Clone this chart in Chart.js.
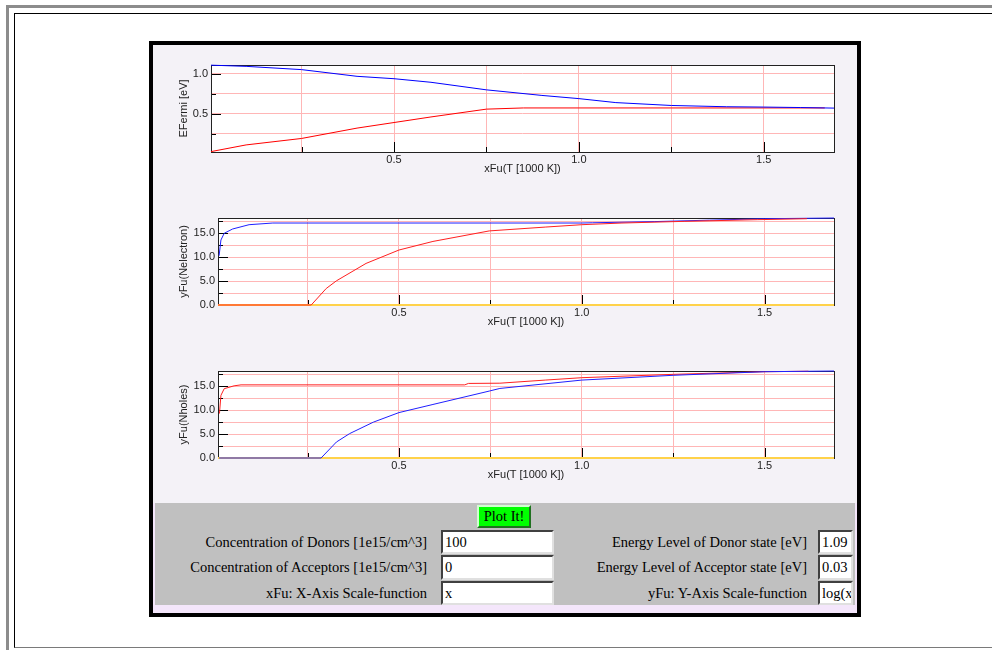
<!DOCTYPE html>
<html>
<head>
<meta charset="utf-8">
<script src="https://cdn.jsdelivr.net/npm/chart.js@4.4.0/dist/chart.umd.min.js"></script>
<style>
html, body { margin: 0; padding: 0; background: #fff; overflow: hidden; width: 992px; height: 650px; }
#frame1 { position: absolute; left: 6px; top: 5px; width: 1200px; height: 700px; border-left: 3px solid #8c8c8c; border-top: 3px solid #8c8c8c; }
#frame2 { position: absolute; left: 14px; top: 13px; width: 1200px; height: 633px; border-left: 1px solid #000; border-top: 1px solid #000; border-bottom: 1px solid #7a7a7a; }
#applet { position: absolute; left: 149px; top: 41px; width: 704px; height: 568px; border: 4px solid #000; background: #f4f2f7; }
.plot { position: absolute; left: 0; width: 704px; height: 131px; }
#panelBg { position: absolute; left: 0; top: 458px; width: 704px; height: 110px; background: #f4e6fb; }
#panel { position: absolute; left: 2px; top: 458px; width: 700px; height: 102px; background: #c0c0c0; }
.lbl { position: absolute; font: 14.5px "Liberation Serif", serif; color: #000; white-space: nowrap; height: 24px; line-height: 24px; text-align: right; }
input { position: absolute; box-sizing: border-box; height: 24px; font: 14.5px "Liberation Serif", serif; padding: 0 0 0 2px; margin: 0;
        border: 2px solid; border-color: #404040 #e0e0e0 #e0e0e0 #404040; background: #fff; color: #000; outline: none; }
button { position: absolute; left: 324px; top: 460px; width: 54px; height: 23px; box-sizing: border-box; margin: 0; padding: 0;
         font: 14.5px "Liberation Serif", serif; color: #000; background: #00ff00; border: 2px solid; border-color: #d0ffd0 #207020 #207020 #d0ffd0; }
</style>
</head>
<body>
<div id="frame1"></div>
<div id="frame2"></div>
<div id="applet">
  <canvas id="fermiChart" class="plot" width="704" height="131" style="top:0px"></canvas>
  <canvas id="elecChart" class="plot" width="704" height="131" style="top:153px"></canvas>
  <canvas id="holeChart" class="plot" width="704" height="131" style="top:306px"></canvas>
  <div id="panelBg"></div>
  <div id="panel"></div>
  <button>Plot It!</button>
  <div class="lbl" style="right:430px; top:485px">Concentration of Donors [1e15/cm^3]</div>
  <div class="lbl" style="right:430px; top:510px">Concentration of Acceptors [1e15/cm^3]</div>
  <div class="lbl" style="right:430px; top:536px">xFu: X-Axis Scale-function</div>
  <input style="left:288px; top:485px; width:113px" value="100">
  <input style="left:288px; top:510px; width:113px; height:25px" value="0">
  <input style="left:288px; top:536px; width:113px" value="x">
  <div class="lbl" style="right:50px; top:485px">Energy Level of Donor state [eV]</div>
  <div class="lbl" style="right:50px; top:510px">Energy Level of Acceptor state [eV]</div>
  <div class="lbl" style="right:50px; top:536px">yFu: Y-Axis Scale-function</div>
  <input style="left:665px; top:485px; width:35px" value="1.09">
  <input style="left:665px; top:510px; width:35px; height:25px" value="0.03">
  <input style="left:665px; top:536px; width:35px" value="log(x)">
</div>
<script>
// === x range (T in 1000 K) ===
const tMin = 0.005;
const tMax = 1.69;

// === top chart: Fermi level [eV] ===
const fermiTemp  = [0.005, 0.1, 0.25, 0.4, 0.5, 0.6, 0.75, 0.9, 1.0, 1.1, 1.25, 1.4, 1.5, 1.6, 1.69];
const fermiLevel = [1.11, 1.095, 1.054, 0.97, 0.94, 0.895, 0.80, 0.73, 0.69, 0.64, 0.604, 0.588, 0.584, 0.578, 0.571];
const midTemp    = [0.005, 0.1, 0.25, 0.4, 0.5, 0.6, 0.75, 0.85, 1.0, 1.25, 1.5, 1.665];
const midLevel   = [0.025, 0.109, 0.19, 0.32, 0.39, 0.46, 0.558, 0.573, 0.573, 0.573, 0.573, 0.573];
const fermiMin = 0.02;
const fermiMax = 1.112;

// === middle chart: yFu(Nelectron) ===
const elecTempA = [0.008, 0.013, 0.022, 0.045, 0.09, 0.155, 0.5, 1.0, 1.03, 1.2, 1.35, 1.5, 1.69];
const elecA     = [10.3, 13.6, 15.0, 15.9, 16.8, 17.15, 17.15, 17.15, 17.2, 17.45, 17.75, 18.05, 18.2];
const elecTempB = [0.005, 0.26, 0.301, 0.329, 0.41, 0.5, 0.593, 0.747, 0.9, 1.0, 1.11, 1.28, 1.48, 1.616];
const elecB     = [0, 0, 3.45, 5.06, 8.7, 11.5, 13.3, 15.5, 16.3, 16.8, 17.15, 17.5, 17.85, 18.05];

// === bottom chart: yFu(Nholes) ===
const holeTempA = [0.009, 0.013, 0.022, 0.049, 0.068, 0.68, 0.69, 0.776, 0.9, 1.0, 1.25, 1.5, 1.62];
const holeA     = [9.3, 13.1, 14.5, 15.1, 15.3, 15.3, 15.6, 15.65, 16.3, 16.8, 17.5, 18.05, 18.15];
const holeTempB = [0.008, 0.287, 0.329, 0.365, 0.43, 0.5, 0.593, 0.747, 0.776, 1.0, 1.25, 1.5, 1.69];
const holeB     = [0, 0, 3.35, 5.1, 7.5, 9.5, 11.2, 14.0, 14.55, 16.3, 17.3, 18.05, 18.2];

// === baseline (both lower charts) ===
const zeroTemp = [tMin, tMax];
const zeroLine = [0, 0];
const countMin = 0;
const countMax = 18.2;

const FONT = { family: "'Liberation Sans', Arial, sans-serif", size: 11 };
const GRID = '#ffb6b6';

function pts(xs, ys) { return xs.map((x, i) => ({ x: x, y: ys[i] })); }
function isMajor(v, step) { return Math.abs(v / step - Math.round(v / step)) < 1e-6; }

// white plot area + frame + inward ticks
const plotFrame = {
    id: 'plotFrame',
    beforeDraw(chart) {
        const a = chart.chartArea, ctx = chart.ctx;
        ctx.save();
        ctx.fillStyle = '#fff';
        ctx.fillRect(a.left, a.top, a.right - a.left, a.bottom - a.top);
        ctx.restore();
    },
    beforeDatasetsDraw(chart) {
        const a = chart.chartArea, ctx = chart.ctx;
        const xs = chart.scales.x, ys = chart.scales.y;
        ctx.save();
        ctx.strokeStyle = '#000';
        ctx.lineWidth = 1;
        ctx.beginPath();
        xs.ticks.forEach(t => {
            const px = Math.round(xs.getPixelForValue(t.value)) + 0.5;
            const len = t.label ? 10 : 5;
            ctx.moveTo(px, a.bottom);
            ctx.lineTo(px, a.bottom - len);
        });
        ys.ticks.forEach(t => {
            const py = Math.round(ys.getPixelForValue(t.value)) + 0.5;
            const len = t.label ? 10 : 5;
            ctx.moveTo(a.left, py);
            ctx.lineTo(a.left + len, py);
        });
        ctx.stroke();
        ctx.strokeStyle = '#222';
        ctx.strokeRect(Math.round(a.left) + 0.5, Math.round(a.top) + 0.5,
                       Math.round(a.right - a.left), Math.round(a.bottom - a.top));
        ctx.restore();
    }
};

function makeChart(id, yTitle, yMin, yMax, yStep, yMajor, yAxisWidth, datasets) {
    return new Chart(document.getElementById(id), {
        type: 'line',
        data: { datasets: datasets },
        options: {
            responsive: false,
            animation: false,
            events: [],
            layout: { padding: { left: 24, right: 23, top: 20, bottom: 0 } },
            plugins: { legend: { display: false }, tooltip: { enabled: false } },
            elements: { point: { radius: 0 }, line: { borderWidth: 1, tension: 0 } },
            datasets: { line: { clip: 3 } },
            scales: {
                x: {
                    type: 'linear', min: tMin, max: tMax,
                    ticks: {
                        stepSize: 0.25, includeBounds: false, autoSkip: false, maxRotation: 0,
                        padding: 1, font: FONT, color: '#222',
                        callback: v => isMajor(v, 0.5) ? v.toFixed(1) : ''
                    },
                    grid: { color: GRID, drawTicks: false },
                    border: { display: false },
                    title: { display: true, text: 'xFu(T [1000 K])', padding: 0, font: FONT, color: '#222' },
                    afterFit: s => { s.height = 24; s.paddingLeft = 0; s.paddingRight = 0; }
                },
                y: {
                    type: 'linear', min: yMin, max: yMax,
                    ticks: {
                        stepSize: yStep, includeBounds: false, autoSkip: false,
                        padding: 3, font: FONT, color: '#222',
                        callback: v => isMajor(v, yMajor) ? v.toFixed(1) : ''
                    },
                    grid: { color: GRID, drawTicks: false },
                    border: { display: false },
                    title: { display: true, text: yTitle, padding: 0, font: FONT, color: '#222' },
                    afterFit: s => { s.width = yAxisWidth; s.paddingTop = 0; s.paddingBottom = 0; }
                }
            }
        },
        plugins: [plotFrame]
    });
}

makeChart('fermiChart', 'EFermi [eV]', fermiMin, fermiMax, 0.25, 0.5, 34, [
    { label: 'Ei', data: pts(midTemp, midLevel), borderColor: '#ff0000', order: 1 },
    { label: 'EF', data: pts(fermiTemp, fermiLevel), borderColor: '#0000ff', order: 0 }
]);

makeChart('elecChart', 'yFu(Nelectron)', countMin, countMax, 2.5, 5, 41, [
    { label: 'zero', data: pts(zeroTemp, zeroLine), borderColor: '#ffd24a', borderWidth: 2, order: 2 },
    { label: 'n', data: pts(elecTempA, elecA), borderColor: '#2020ff', order: 1 },
    { label: 'ni', data: pts(elecTempB, elecB), borderColor: '#ff2020', order: 0 }
]);

makeChart('holeChart', 'yFu(Nholes)', countMin, countMax, 2.5, 5, 41, [
    { label: 'zero', data: pts(zeroTemp, zeroLine), borderColor: '#ffd24a', borderWidth: 2, order: 2 },
    { label: 'p', data: pts(holeTempA, holeA), borderColor: '#ff2020', order: 1 },
    { label: 'pi', data: pts(holeTempB, holeB), borderColor: '#2020ff', order: 0 }
]);
</script>
</body>
</html>
